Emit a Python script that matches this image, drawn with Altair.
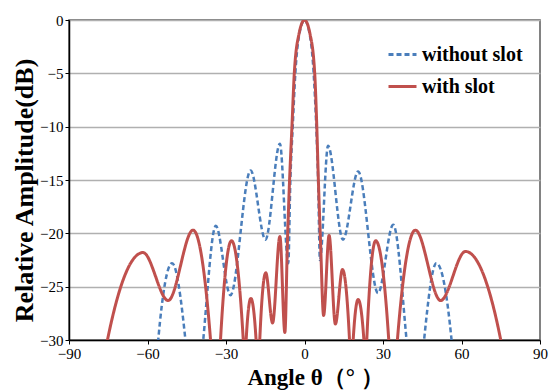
import altair as alt
import pandas as pd

series_names = ["without slot", "with slot"]

# without slot (blue dashed)
blue_angle = [-58, -55.9, -50.6, -45.5, -42.1, -38.7, -33.9, -28.3, -20.6, -14.9, -9.4,
              -6.2, -5.4, -4.5, -3.5, -1.8, 0, 1.8, 3.5, 4.5, 5.2, 5.9,
              9.0, 14.7, 20.5, 28.1, 33.9, 39.0, 42.4, 45.7, 50.4, 56.2, 58]
blue_db = [-40, -30, -22.8, -30, -40, -30, -19.3, -25.8, -14.1, -20.6, -11.6,
           -22.8, -15, -10, -5, -1.1, 0, -1.1, -5, -10, -15, -22.5,
           -11.8, -20.6, -14.2, -25.6, -19.2, -30, -40, -30, -22.8, -30, -40]

# with slot (red solid)
red_angle = [-79, -75.3, -61.7, -52.1, -42.6, -35.9, -34.0, -32.1,
             -27.9, -23.4, -22.9, -22.3, -20.5, -18.5, -17.8, -17.1, -14.8, -12.2, -9.4, -7.5,
             -6.5, -5.7, -4.8, -3.9, -2.1, 0, 2.1, 3.9, 4.7, 5.3, 6.1, 7.3,
             9.4, 11.8, 14.5, 17.2, 17.9, 18.6, 20.5, 22.7, 23.2, 23.8, 27.2, 32.2, 33.8, 35.5,
             42.4, 52.0, 61.5, 75.0, 79]
red_db = [-42, -30, -21.8, -26.3, -19.7, -30, -40, -30,
          -20.7, -30, -35, -30, -26.1, -30, -36, -30, -23.7, -28.4, -20.3, -29.3,
          -20.6, -15, -10, -5, -1.3, 0, -1.3, -5, -10, -15, -20.6, -27.7,
          -20.2, -28.5, -23.4, -30, -36, -30, -26.2, -30, -35, -30, -20.7, -30, -40, -30,
          -19.7, -26.3, -21.7, -30, -42]

x_ticks = [-90, -60, -30, 0, 30, 60, 90]
y_ticks = [-30, -25, -20, -15, -10, -5, 0]

df_blue = pd.DataFrame({"angle": blue_angle, "db": blue_db, "series": series_names[0]})
df_red = pd.DataFrame({"angle": red_angle, "db": red_db, "series": series_names[1]})

serif = "Liberation Serif"

color_scale = alt.Scale(domain=series_names, range=["#4a7ebb", "#c0504d"])
dash_scale = alt.Scale(domain=series_names, range=[[5, 3], [1, 0]])

legend = alt.Legend(
    title=None, orient="none", legendX=318, legendY=19, padding=0,
    symbolType="stroke", symbolSize=784, symbolStrokeWidth=3,
    labelFont=serif, labelFontSize=20, labelFontWeight="bold", labelColor="black",
    labelOffset=4, rowPadding=6,
)

x_enc = alt.X(
    "angle:Q",
    scale=alt.Scale(domain=[-90, 90], nice=False),
    axis=alt.Axis(
        values=x_ticks, grid=False, title="Angle θ（°   ）", labelFlush=False,
        titleX=246, titleY=44, titleBaseline="alphabetic", titleFontSize=23,
    ),
)
y_enc = alt.Y(
    "db:Q",
    scale=alt.Scale(domain=[-30, 0], nice=False),
    axis=alt.Axis(
        values=y_ticks, grid=True, title="Relative Amplitude(dB)",
        titleX=-45, titleY=170, titleBaseline="middle", titleFontSize=26,
    ),
)

def layer(df, width):
    return alt.Chart(df).mark_line(clip=True, interpolate="monotone", strokeWidth=width).encode(
        x=x_enc,
        y=y_enc,
        color=alt.Color("series:N", scale=color_scale, legend=legend),
        strokeDash=alt.StrokeDash("series:N", scale=dash_scale, legend=legend),
    )

chart = alt.layer(layer(df_blue, 2.5), layer(df_red, 3)).properties(
    width=471, height=320,
    autosize=alt.AutoSizeParams(type="none"),
    padding={"left": 61, "top": 12, "right": 12, "bottom": 50},
).configure(
    font=serif
).configure_view(
    stroke="#595959", strokeWidth=1.5
).configure_axis(
    labelFont=serif, labelFontSize=15, labelColor="black",
    titleFont=serif, titleFontWeight="bold", titleColor="black",
    domainColor="black", domainWidth=1.5, tickColor="black", tickSize=4, tickWidth=1,
    labelPadding=2, gridColor="#b0b0b0", gridWidth=1.5,
).configure_legend(
    labelFont=serif
)

chart.save("out.html", embed_options={"renderer": "svg", "actions": False})
